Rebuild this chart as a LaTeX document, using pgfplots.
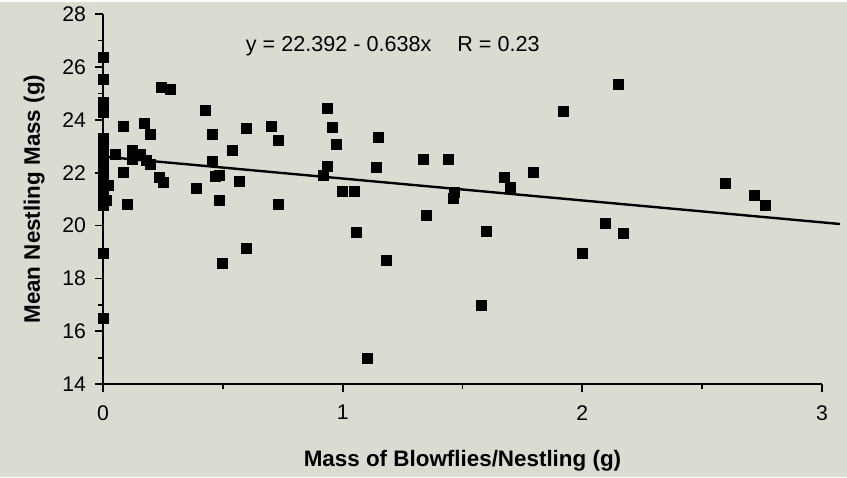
\documentclass[border=0pt]{standalone}
\usepackage{pgfplots}
\pgfplotsset{compat=1.18}
\usepackage{fontspec}
\setmainfont{Liberation Sans}
\usetikzlibrary{backgrounds}
\definecolor{bgc}{RGB}{220,219,210}

\begin{document}
\begin{tikzpicture}
\begin{axis}[
  scale only axis,
  width=359.5pt,
  height=185pt,
  xmin=0, xmax=3,
  ymin=14, ymax=28,
  clip=false,
  axis lines=left,
  axis line style={-, line width=1pt},
  xtick={0,1,2,3},
  ytick={14,16,...,28},
  minor x tick num=1,
  minor y tick num=1,
  tick align=outside,
  major tick length=4pt,
  minor tick length=2.5pt,
  tick style={black, line width=0.9pt},
  tick label style={font=\fontsize{10.6}{12}\selectfont},
  /pgf/number format/assume math mode=true,
  xticklabel style={yshift=-3pt},
  yticklabel style={xshift=-1pt},
  xlabel={\textbf{Mass of Blowflies/Nestling (g)}},
  ylabel={\textbf{Mean Nestling Mass (g)}},
  label style={font=\fontsize{11.2}{13}\selectfont},
  xlabel style={yshift=-8pt},
  ylabel style={yshift=2pt},
]
\coordinate (bbsw) at (rel axis cs:-0.1433,-0.2514);
\coordinate (bbne) at (rel axis cs:1.0348,1.0324);

% data points
\addplot[only marks, mark=square*, mark size=2.5pt, black] coordinates {
  (0,26.37) (0,25.55) (0,24.67) (0,24.3) (0,23.3) (0,23.1) (0,22.9)
  (0,22.7) (0,22.5) (0,22.3) (0,22.1) (0,21.9) (0,21.7) (0,21.5)
  (0,21.3) (0,21.1) (0,20.9) (0,20.75) (0,18.93) (0,16.47)
  (0.015,20.95) (0.022,21.52) (0.053,22.68) (0.083,23.74) (0.085,22.02)
  (0.1,20.82) (0.122,22.85) (0.122,22.52) (0.154,22.71) (0.171,23.88)
  (0.182,22.46) (0.199,23.46) (0.199,22.30) (0.235,21.83) (0.245,25.24)
  (0.252,21.62) (0.28,25.15) (0.388,21.42) (0.426,24.36) (0.456,23.46)
  (0.455,22.43) (0.471,21.87) (0.487,21.9) (0.485,20.95) (0.5,18.58)
  (0.538,22.83) (0.569,21.69) (0.597,23.66) (0.597,19.12) (0.704,23.74)
  (0.731,23.24) (0.73,20.82) (0.92,21.9) (0.937,24.45) (0.937,22.25)
  (0.958,23.72) (0.973,23.06) (0.997,21.29) (1.048,21.29) (1.057,19.73)
  (1.104,14.96) (1.14,22.22) (1.149,23.32) (1.183,18.7) (1.336,22.5)
  (1.35,20.38) (1.441,22.5) (1.461,21.01) (1.468,21.27) (1.577,16.98)
  (1.6,19.78) (1.674,21.83) (1.698,21.45) (1.797,22.02) (1.923,24.32)
  (2.0,18.96) (2.098,20.1) (2.151,25.33) (2.173,19.69) (2.598,21.58)
  (2.716,21.16) (2.762,20.76)
};

% regression line as drawn
\addplot[black, line width=1.2pt] coordinates {(0,22.61) (3.075,20.06)};

\node[font=\fontsize{10.8}{12}\selectfont] at (rel axis cs:0.403,0.914)
  {y = 22.392 - 0.638x\hspace{1.2em}R = 0.23};
\end{axis}
\begin{pgfonlayer}{background}
\fill[bgc] (bbsw) rectangle (bbne);
\end{pgfonlayer}
\end{tikzpicture}
\end{document}
